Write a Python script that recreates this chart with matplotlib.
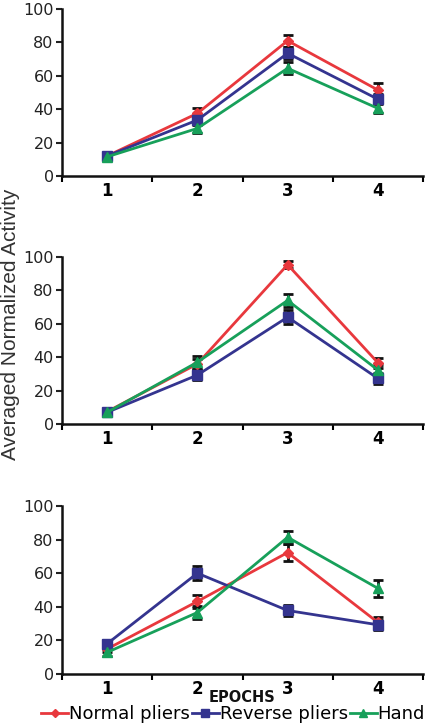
import matplotlib
matplotlib.use("Agg")
import matplotlib.pyplot as plt
import numpy as np

epochs = [1, 2, 3, 4]
epoch_labels = ["1", "2", "3", "4"]
series_names = ["Normal pliers", "Reverse pliers", "Hand"]

# panel 1
p1_normal = [12, 37.5, 81, 51.5]
p1_reverse = [12, 33.5, 73.5, 46]
p1_hand = [11.5, 28.5, 64.5, 40.5]
p1_normal_err = [1, 3, 3.5, 4]
p1_reverse_err = [1, 3, 3.5, 3]
p1_hand_err = [1, 3, 3.5, 3]

# panel 2
p2_normal = [7.4, 36, 95.4, 36.7]
p2_reverse = [7, 29.3, 64, 27.3]
p2_hand = [7, 37, 74, 32.3]
p2_normal_err = [1, 3, 2, 3]
p2_reverse_err = [1, 3, 4, 3.5]
p2_hand_err = [1, 4, 4, 3]

# panel 3
p3_normal = [14.9, 43.2, 72.3, 30.7]
p3_reverse = [18, 60, 37.8, 29.3]
p3_hand = [12.9, 36.6, 81.4, 51]
p3_normal_err = [2, 4, 5, 3]
p3_reverse_err = [2, 4, 3, 3]
p3_hand_err = [2, 4, 4, 5]

panels = [
    (p1_normal, p1_reverse, p1_hand, p1_normal_err, p1_reverse_err, p1_hand_err),
    (p2_normal, p2_reverse, p2_hand, p2_normal_err, p2_reverse_err, p2_hand_err),
    (p3_normal, p3_reverse, p3_hand, p3_normal_err, p3_reverse_err, p3_hand_err),
]

colors = ["#e8383d", "#34348f", "#17a05a"]
markers = ["D", "s", "^"]
msizes = [5, 6.5, 7.5]

fig = plt.figure(figsize=(4.3, 7.25), dpi=100)
left, width = 62 / 430, (423 - 62) / 430
boxes = [(9, 176), (257, 424), (506, 674)]

handles = []
for pi, (box, data) in enumerate(zip(boxes, panels)):
    top, bot = box
    ax = fig.add_axes([left, 1 - bot / 725, width, (bot - top) / 725])
    vals = data[:3]
    errs = data[3:]
    for si in range(3):
        ax.errorbar(epochs, vals[si], yerr=errs[si], fmt="none", ecolor="#111111",
                    elinewidth=2, capsize=3.5, capthick=2, zorder=3)
    for si in range(3):
        h, = ax.plot(epochs, vals[si], color=colors[si], lw=2, marker=markers[si],
                     ms=msizes[si], mec=colors[si], mfc=colors[si], zorder=4,
                     label=series_names[si])
        if pi == 0:
            handles.append(h)
    ax.set_xlim(0.5, 4.5)
    ax.set_ylim(0, 100)
    ax.set_yticks([0, 20, 40, 60, 80, 100])
    ax.set_xticks([0.5, 1.5, 2.5, 3.5, 4.5])
    ax.set_xticklabels([])
    ax.set_xticks(epochs, minor=True)
    ax.set_xticklabels(epoch_labels, minor=True, fontweight="bold", fontsize=12)
    ax.tick_params(axis="x", which="minor", length=0, pad=4)
    ax.tick_params(axis="x", which="major", length=4, width=1.5, direction="out")
    ax.tick_params(axis="y", length=4, width=1.5, labelsize=11.5, pad=2, colors="#222222")
    for s in ["top", "right"]:
        ax.spines[s].set_visible(False)
    for s in ["left", "bottom"]:
        ax.spines[s].set_linewidth(1.8)
        ax.spines[s].set_color("#111111")

fig.text(242.5 / 430, 1 - 698 / 725, "EPOCHS", ha="center", va="center",
         fontweight="bold", fontsize=10.5, color="#111111")

fig.text(0.025, 1 - 324 / 725, "Averaged Normalized Activity", rotation=90,
         ha="center", va="center", fontsize=15, family="Liberation Sans", color="#333333")

fig.legend(handles=handles, loc="center left", bbox_to_anchor=(41 / 430, 1 - 714 / 725),
           ncol=3, frameon=False, fontsize=13, handlelength=1.5, handletextpad=0.05,
           columnspacing=0.1, borderaxespad=0, borderpad=0, markerscale=0.8)

fig.savefig("out.png", dpi=100)
